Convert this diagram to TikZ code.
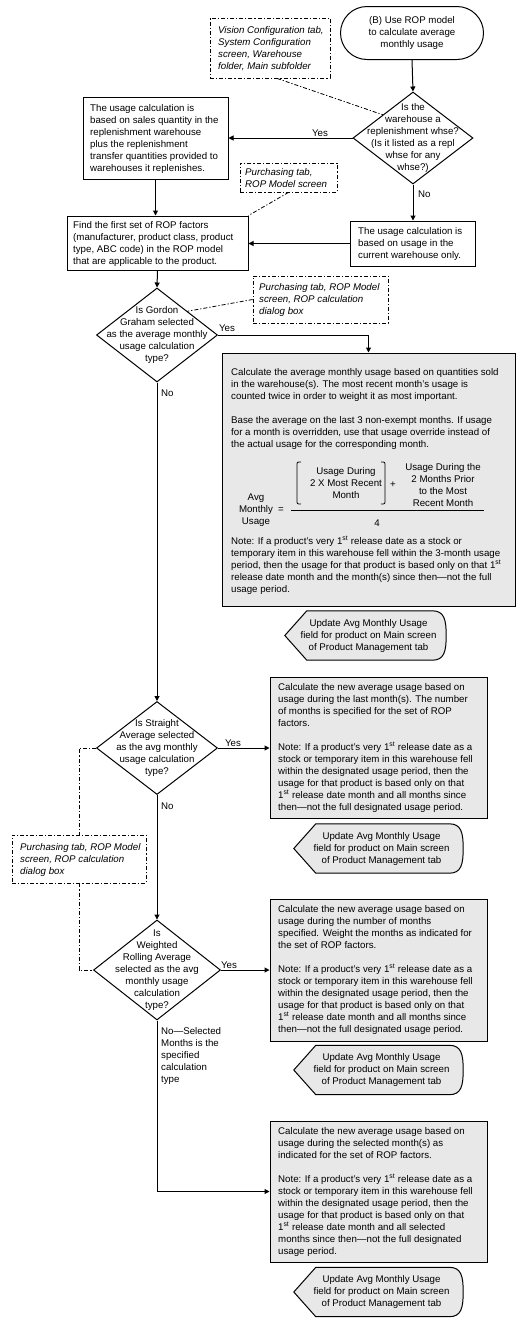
\documentclass[tikz,border=0pt]{standalone}
\usepackage{fontspec}
\setmainfont{Liberation Sans}
\usetikzlibrary{shapes.geometric,shapes.misc,arrows.meta}
\definecolor{boxgray}{RGB}{232,232,232}
\newcommand{\UpdBox}[5]{%
  \node[updbase, minimum width=#4pt, minimum height=#5pt] (#1) at (#2,#3) {};
  \draw[updline] (#1.west) -- ([xshift=22pt]#1.north west) -- ([xshift=-14pt]#1.north east)
    .. controls ([xshift=-2pt]#1.north east) and ([yshift=16pt]#1.east) .. (#1.east)
    .. controls ([yshift=-16pt]#1.east) and ([xshift=-2pt]#1.south east) .. ([xshift=-14pt]#1.south east)
    -- ([xshift=22pt]#1.south west) -- cycle;
  \node[ctxt] (#1t) at ([xshift=3pt]#1.center) {Update Avg Monthly Usage\\field for product on Main screen\\of Product Management tab};
}
\begin{document}
\begin{tikzpicture}[x=1pt,y=-1pt,
  every node/.style={font=\fontsize{9.7}{12}\selectfont},
  box/.style={draw, rectangle, line width=1pt, inner sep=0pt},
  gbox/.style={box, fill=boxgray},
  note/.style={draw, rectangle, inner sep=0pt, line width=0.8pt, dash pattern=on 4pt off 2pt on 1.2pt off 2pt},
  ddline/.style={line width=0.8pt, dash pattern=on 4pt off 2pt on 1.2pt off 2pt},
  dia/.style={draw, diamond, inner sep=0pt, line width=1pt},
  term/.style={draw, rounded rectangle, inner sep=0pt, line width=1pt},
  arr/.style={line width=1pt, -{Triangle[length=5pt,width=5pt]}},
  ln/.style={line width=1pt},
  ltxt/.style={align=left, inner sep=0pt, anchor=west},
  ctxt/.style={align=center, inner sep=0pt},
  itxt/.style={align=left, inner sep=0pt, anchor=west, font=\fontsize{9.7}{12}\selectfont\itshape},
  updbase/.style={rectangle, inner sep=0pt},
  updline/.style={draw, fill=boxgray, line width=1pt},
  lbl/.style={inner sep=0pt}
]
\useasboundingbox[fill=white] (0,0) rectangle (530,1323);

% start
\node[term, minimum width=143pt, minimum height=53pt] (start) at (412,33) {};
\node[ctxt] (startt) at (start.center) {(B) Use ROP model\\to calculate average\\monthly usage};

% note 1
\node[note, minimum width=120pt, minimum height=60pt] (n1) at (270,48) {};
\node[itxt] (n1t) at (218,49) {Vision Configuration tab,\\System Configuration\\screen, Warehouse\\folder, Main subfolder};

% decision 1
\node[dia, minimum width=120pt, minimum height=92pt] (d1) at (413,138) {};
\node[ctxt] (d1t) at (413,138) {Is the\\warehouse a\\replenishment whse?\\(Is it listed as a repl\\whse for any\\whse?)};

% box A
\node[box, minimum width=145pt, minimum height=82pt] (bA) at (155.5,138) {};
\node[ltxt] (bAt) at (90,139) {The usage calculation is\\based on sales quantity in the\\replenishment warehouse\\plus the replenishment\\transfer quantities provided to\\warehouses it replenishes.};

% note 2
\node[note, minimum width=97pt, minimum height=29pt] (n2) at (288.5,177.5) {};
\node[itxt] (n2t) at (245,178) {Purchasing tab,\\ROP Model screen};

% box B
\node[box, minimum width=181pt, minimum height=54pt] (bB) at (157.5,243) {};
\node[ltxt] (bBt) at (73,244) {Find the first set of ROP factors\\(manufacturer, product class, product\\type, ABC code) in the ROP model\\that are applicable to the product.};

% box C
\node[box, minimum width=125pt, minimum height=45pt] (bC) at (412.5,243.5) {};
\node[ltxt] (bCt) at (358,244) {The usage calculation is\\based on usage in the\\current warehouse only.};

% decision 2
\node[dia, minimum width=121pt, minimum height=94pt] (d2) at (157,335) {};
\node[ctxt] (d2t) at (157,335) {Is Gordon\\Graham selected\\as the average monthly\\usage calculation\\type?};

% note 3
\node[note, minimum width=135pt, minimum height=47pt] (n3) at (320.5,299.5) {};
\node[itxt] (n3t) at (259,300) {Purchasing tab, ROP Model\\screen, ROP calculation\\dialog box};

% box D
\node[gbox, minimum width=293pt, minimum height=253pt] (bD) at (368.5,479.5) {};
\node[ltxt] (bDp1) at (231,385) {Calculate the average monthly usage based on quantities sold\\in the warehouse(s). The most recent month's usage is\\counted twice in order to weight it as most important.};
\node[ltxt] (bDp2) at (231,433) {Base the average on the last 3 non-exempt months. If usage\\for a month is overridden, use that usage override instead of\\the actual usage for the corresponding month.};
\node[ctxt] (fl) at (256,510) {Avg\\Monthly\\Usage};
\node[lbl] (feq) at (281,510) {=};
\node[ctxt] (fa) at (346,483) {Usage During\\2 X Most Recent\\Month};
\node[lbl] (fplus) at (393,485) {+};
\node[ctxt] (fb) at (443,485) {Usage During the\\2 Months Prior\\to the Most\\Recent Month};
\node[lbl] (f4) at (377,523) {4};
\coordinate (fr1) at (291,510);
\coordinate (fr2) at (484,510);
\draw[line width=0.8pt] (fr1) -- (fr2);
\coordinate (lbA) at (301,462);
\coordinate (lbB) at (301,504);
\draw[line width=0.8pt] (lbA) .. controls (297,462) .. (297,466) -- (297,500) .. controls (297,504) .. (lbB);
\coordinate (rbA) at (381,462);
\coordinate (rbB) at (381,504);
\draw[line width=0.8pt] (rbA) .. controls (385,462) .. (385,466) -- (385,500) .. controls (385,504) .. (rbB);
\node[ltxt] (bDn) at (231,565) {Note: If a product's very 1\textsuperscript{st} release date as a stock or\\temporary item in this warehouse fell within the 3-month usage\\period, then the usage for that product is based only on that 1\textsuperscript{st}\\release date month and the month(s) since then---not the full\\usage period.};

\UpdBox{u1}{365.5}{635.5}{161}{49}

% decision 3
\node[dia, minimum width=121pt, minimum height=93pt] (d3) at (157,748) {};
\node[ctxt] (d3t) at (157,748) {Is Straight\\Average selected\\as the avg monthly\\usage calculation\\type?};

% box E
\node[gbox, minimum width=217pt, minimum height=141pt] (bE) at (378.5,747.5) {};
\node[ltxt] (bEt) at (278,748) {Calculate the new average usage based on\\usage during the last month(s). The number\\of months is specified for the set of ROP\\factors.\\[12pt]Note: If a product's very 1\textsuperscript{st} release date as a\\stock or temporary item in this warehouse fell\\within the designated usage period, then the\\usage for that product is based only on that\\1\textsuperscript{st} release date month and all months since\\then---not the full designated usage period.};

\UpdBox{u2}{378.5}{848.5}{169}{49}

% note 4
\node[note, minimum width=134pt, minimum height=48pt] (n4) at (79,859) {};
\node[itxt] (n4t) at (20,860) {Purchasing tab, ROP Model\\screen, ROP calculation\\dialog box};

% decision 4
\node[dia, minimum width=127pt, minimum height=100pt] (d4) at (157,970) {};
\node[ctxt] (d4t) at (157,970) {Is\\Weighted\\Rolling Average\\selected as the avg\\monthly usage\\calculation\\type?};

% box F
\node[gbox, minimum width=217pt, minimum height=142pt] (bF) at (378.5,970) {};
\node[ltxt] (bFt) at (278,970) {Calculate the new average usage based on\\usage during the number of months\\specified. Weight the months as indicated for\\the set of ROP factors.\\[12pt]Note: If a product's very 1\textsuperscript{st} release date as a\\stock or temporary item in this warehouse fell\\within the designated usage period, then the\\usage for that product is based only on that\\1\textsuperscript{st} release date month and all months since\\then---not the full designated usage period.};

\UpdBox{u3}{378.5}{1070}{169}{49}

% box G
\node[gbox, minimum width=217pt, minimum height=141pt] (bG) at (378.5,1191.5) {};
\node[ltxt] (bGt) at (278,1192) {Calculate the new average usage based on\\usage during the selected month(s) as\\indicated for the set of ROP factors.\\[12pt]Note: If a product's very 1\textsuperscript{st} release date as a\\stock or temporary item in this warehouse fell\\within the designated usage period, then the\\usage for that product is based only on that\\1\textsuperscript{st} release date month and all selected\\months since then---not the full designated\\usage period.};

\UpdBox{u4}{378.5}{1292}{169}{49}

% connectors
\draw[arr] (start.south) -- (d1.north);
\draw[arr] (d1.west) -- (d1.west -| bA.east);
\node[lbl] (y1) at (320,133) {Yes};
\draw[arr] (d1.south) -- (d1.south |- bC.north);
\node[lbl, anchor=west] (no1) at (418,194) {No};
\draw[arr] (bA.south) -- (bA.south |- bB.north);
\draw[arr] (bC.west) -- (bC.west -| bB.east);
\draw[arr] (bB.south) -- (d2.north);
\draw[arr] (d2.east) -| (bD.north);
\node[lbl] (y2) at (227,328) {Yes};
\draw[arr] (d2.south) -- (d3.north);
\node[lbl, anchor=west] (no2) at (161,393) {No};
\draw[arr] (d3.east) -- (d3.east -| bE.west);
\node[lbl] (y3) at (233,743) {Yes};
\draw[arr] (d3.south) -- (d4.north);
\node[lbl, anchor=west] (no3) at (161,806) {No};
\draw[arr] (d4.east) -- (d4.east -| bF.west);
\node[lbl] (y4) at (229,965) {Yes};
\draw[arr] (d4.south) |- (bG.west);
\node[ltxt] (no4) at (161,1056) {No---Selected\\Months is the\\specified\\calculation\\type};

% dash-dot annotation links
\draw[ddline] ([xshift=7pt]n1.south) -- (d1.north west);
\draw[ddline] (n2.south) -- (bB.north east);
\draw[ddline] (n3.west) -- (d2.north east);
\draw[ddline] (d3.west) -| (n4.north);
\draw[ddline] (n4.south) |- (d4.west);
\end{tikzpicture}
\end{document}
